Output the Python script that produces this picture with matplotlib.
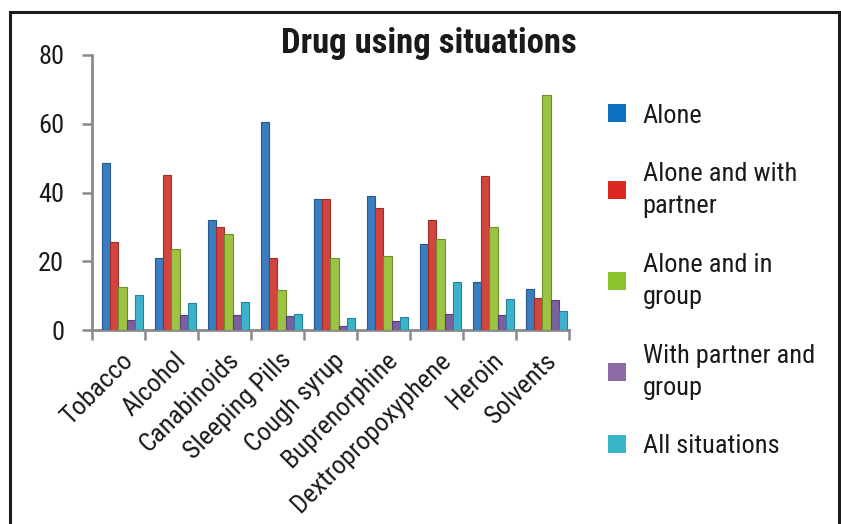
import matplotlib
matplotlib.use("Agg")
import matplotlib.pyplot as plt
from matplotlib import font_manager as fm
from matplotlib.patches import Patch, Rectangle
import numpy as np

categories = ["Tobacco", "Alcohol", "Canabinoids", "Sleeping Pills", "Cough syrup",
              "Buprenorphine", "Dextropropoxyphene", "Heroin", "Solvents"]
alone = [48.5, 21, 32, 60.5, 38, 39, 25, 14, 12]
alone_partner = [25.5, 45, 30, 21, 38, 35.5, 32, 44.7, 9.4]
alone_group = [12.5, 23.5, 28, 11.5, 21, 21.5, 26.5, 30, 68.5]
partner_group = [3, 4.5, 4.3, 4.2, 1.3, 2.6, 4.6, 4.4, 8.8]
all_situations = [10.3, 8, 8.2, 4.6, 3.5, 3.8, 14, 9, 5.4]

series_names = ["Alone", "Alone and with\npartner", "Alone and in\ngroup",
                "With partner and\ngroup", "All situations"]
series = [alone, alone_partner, alone_group, partner_group, all_situations]
bar_colors = ["#3A7DC0", "#D2453F", "#9DC344", "#7C5FA0", "#3DB3CB"]
edge_colors = ["#23598F", "#9E2C28", "#6F9028", "#583F78", "#23839A"]
legend_colors = ["#0A72C0", "#DC2820", "#8BC42C", "#8F6BA6", "#3AB4C8"]
yticks = [0, 20, 40, 60, 80]

# pick a condensed sans face if one is installed
cond_stretch = ("condensed", "semi-condensed", "extra-condensed", "ultra-condensed")
family, stretch, narrow = "Liberation Sans", "normal", False
prefs = ["Liberation Sans Narrow", "Roboto Condensed", "Open Sans Condensed",
         "Noto Sans", "Open Sans", "Roboto", "Lato", "Inter", "DejaVu Sans"]
found = {}
for f in fm.fontManager.ttflist:
    is_cond = (f.stretch in cond_stretch) or ("Narrow" in f.name) or ("Condensed" in f.name)
    if is_cond and f.style == "normal":
        found.setdefault(f.name, f.stretch)
for p in prefs:
    if p in found:
        family, stretch, narrow = p, found[p], True
        break
else:
    if found:
        family = sorted(found)[0]
        stretch, narrow = found[family], True

plt.rcParams["font.family"] = [family, "DejaVu Sans"]
plt.rcParams["font.stretch"] = stretch
scale = 1.0 if narrow else 0.86

W, H = 841, 524
fig = plt.figure(figsize=(W / 100, H / 100), dpi=100)

fig.patches.append(Rectangle((10 / W, -0.01), 829 / W, 1 - 12 / H + 0.01,
                             transform=fig.transFigure, fill=False,
                             edgecolor="#1a1a1a", linewidth=2.2))

ax = fig.add_axes([92 / W, (H - 330) / H, (569 - 92) / W, (330 - 55) / H])
n = len(categories)
x = np.arange(n)
bw = 0.157
for j, (vals, c, ec) in enumerate(zip(series, bar_colors, edge_colors)):
    ax.bar(x - 0.32 + j * bw, vals, width=bw, align="edge", color=c,
           edgecolor=ec, linewidth=0.8, zorder=3)

ax.set_xlim(-0.5, n - 0.5)
ax.set_ylim(0, 80)
ax.set_yticks(yticks)
ax.set_yticklabels([str(v) for v in yticks], fontsize=19 * scale, color="#1a1a1a")
ax.set_xticks(x + 0.04)
ax.set_xticklabels(categories, rotation=45, ha="right", va="top",
                   rotation_mode="anchor", fontsize=19 * scale, color="#1a1a1a")
ax.tick_params(axis="x", which="major", length=0, pad=13)
ax.set_xticks(np.arange(-0.5, n), minor=True)
ax.tick_params(axis="x", which="minor", length=7, width=1.8, color="#8a8a8a")
ax.tick_params(axis="y", length=7, width=1.8, color="#8a8a8a", pad=13)

for s in ["top", "right"]:
    ax.spines[s].set_visible(False)
for s in ["left", "bottom"]:
    ax.spines[s].set_color("#8a8a8a")
    ax.spines[s].set_linewidth(2)
ax.set_facecolor("none")

fig.text(429 / W, 1 - 44 / H, "Drug using situations", ha="center", va="center",
         fontsize=25 * scale, fontweight="bold", color="#1a1a1a")

handles = [Patch(facecolor=c, edgecolor="none") for c in legend_colors]
leg = fig.legend(handles, series_names, loc="upper left",
                 bbox_to_anchor=(597 / W, 1 - 93 / H), frameon=False,
                 borderaxespad=0, fontsize=19 * scale,
                 handlelength=0.68, handleheight=0.68,
                 handletextpad=0.65, labelspacing=1.3)
for t in leg.get_texts():
    t.set_color("#1a1a1a")
    t.set_linespacing(1.45)

fig.savefig("out.png", dpi=100)
